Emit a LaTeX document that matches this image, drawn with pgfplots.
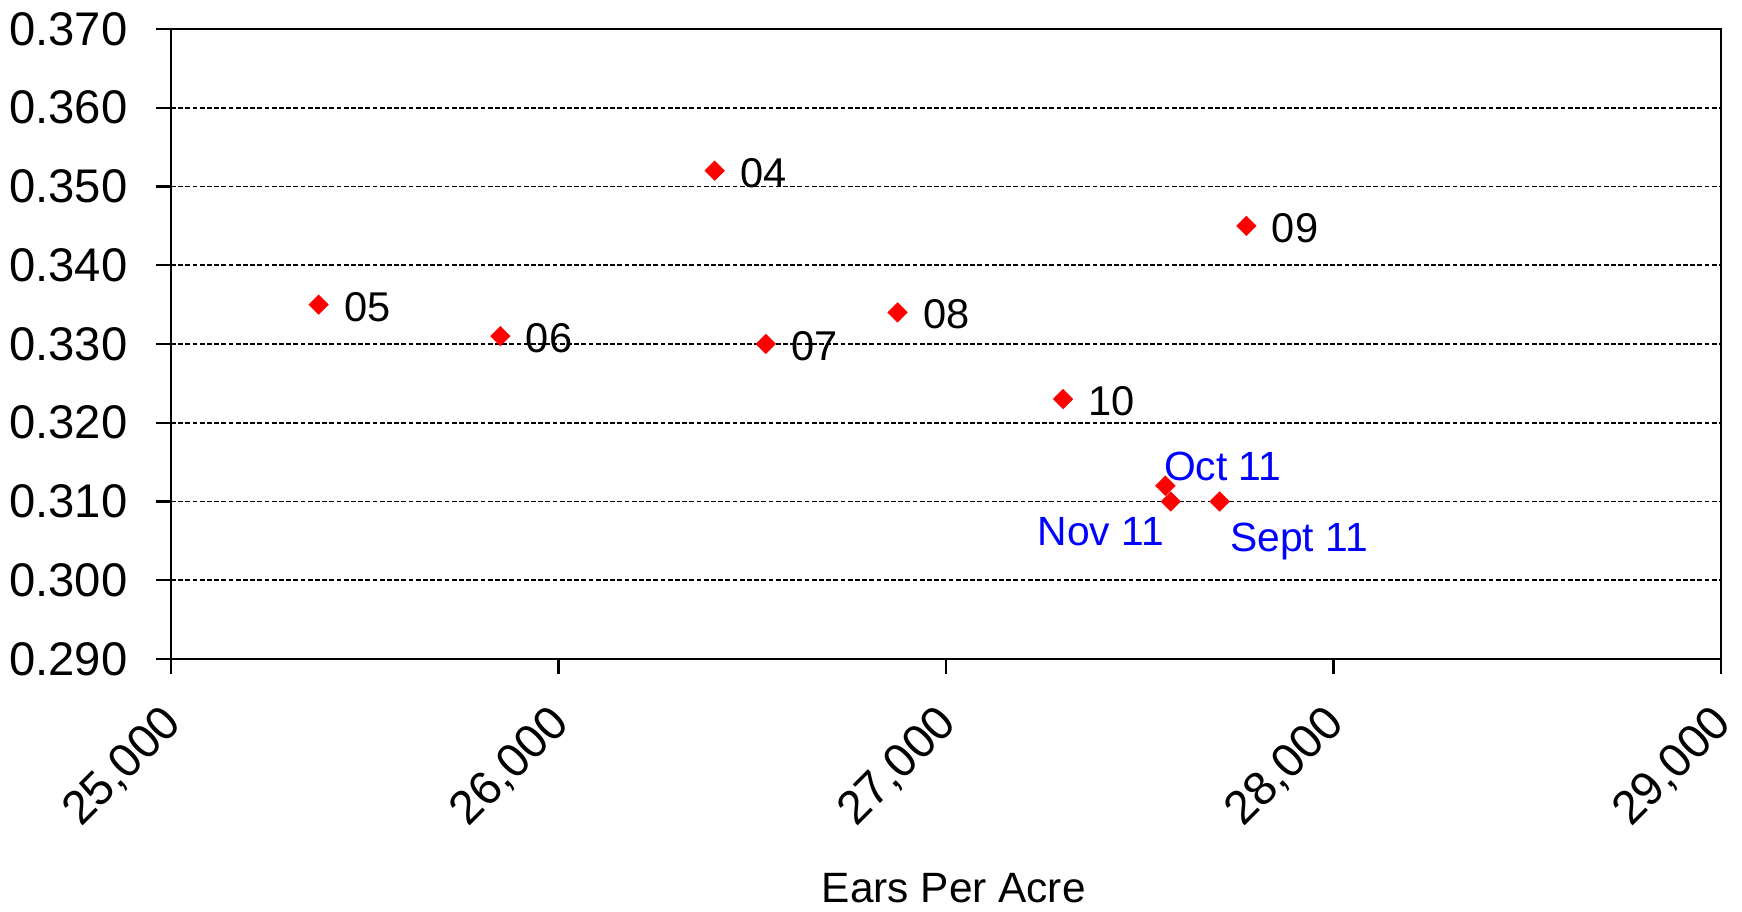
\documentclass[border=0pt]{standalone}
\usepackage{pgfplots}
\pgfplotsset{compat=1.18}
\usepackage{fontspec}
\setmainfont{Liberation Sans}
\definecolor{ptred}{RGB}{255,0,0}
\definecolor{lblblue}{RGB}{0,0,255}
\begin{document}
\fontsize{11.8}{14}\selectfont
\begin{tikzpicture}
\begin{axis}[
    scale only axis,
    width=387.5pt,
    height=157.5pt,
    xmin=25000, xmax=29000,
    ymin=0.29, ymax=0.37,
    xtick={25000,26000,27000,28000,29000},
    ytick={0.29,0.30,...,0.37},
    scaled ticks=false,
    /pgf/number format/assume math mode=true,
    x tick label style={/pgf/number format/1000 sep={,}, /pgf/number format/fixed},
    y tick label style={/pgf/number format/fixed, /pgf/number format/fixed zerofill, /pgf/number format/precision=3},
    xticklabel style={rotate=45, anchor=east, inner sep=0pt, xshift=-6.7pt, yshift=-7.9pt},
    yticklabel style={xshift=-3pt},
    tick align=outside,
    major tick length=3.8pt,
    tick style={black, line width=0.6pt},
    xtick pos=bottom, ytick pos=left,
    ymajorgrids,
    grid style={black, dash pattern=on 1.2pt off 0.6pt, line width=0.4pt},
    axis line style={black, line width=0.6pt},
    xlabel={Ears Per Acre},
    xlabel style={font=\fontsize{10.6}{12}\selectfont, anchor=base, at={(axis description cs:0.505,-0.387)}},
    mark size=1.6pt,
    clip=false,
]
\coordinate (sw) at (rel axis cs:0,0);
\coordinate (ne) at (rel axis cs:1,1);
% years, labels to the right
\addplot [only marks, mark=square*, mark options={rotate=45, fill=ptred, draw=ptred},
    nodes near coords, point meta=explicit symbolic,
    every node near coord/.append style={anchor=base west, inner sep=0pt, black,
      font=\fontsize{10.4}{12}\selectfont, xshift=6.2pt, yshift=-4.1pt}]
    table [meta=lab] {
x y lab
26403 0.352 04
25381 0.335 05
25850 0.331 06
26535 0.330 07
26875 0.334 08
27775 0.345 09
27302 0.323 10
};
% Oct 11
\addplot [only marks, mark=square*, mark options={rotate=45, fill=ptred, draw=ptred},
    nodes near coords, point meta=explicit symbolic,
    every node near coord/.append style={anchor=base west, inner sep=0pt, lblblue,
      font=\fontsize{10.2}{12}\selectfont, xshift=-0.5pt, yshift=1.4pt}]
    table [meta=lab] {
x y lab
27566 0.312 {Oct 11}
};
% Nov 11
\addplot [only marks, mark=square*, mark options={rotate=45, fill=ptred, draw=ptred},
    nodes near coords, point meta=explicit symbolic,
    every node near coord/.append style={anchor=base east, inner sep=0pt, lblblue,
      font=\fontsize{10.2}{12}\selectfont, xshift=-1.5pt, yshift=-10.9pt}]
    table [meta=lab] {
x y lab
27580 0.310 {Nov 11}
};
% Sept 11
\addplot [only marks, mark=square*, mark options={rotate=45, fill=ptred, draw=ptred},
    nodes near coords, point meta=explicit symbolic,
    every node near coord/.append style={anchor=base west, inner sep=0pt, lblblue,
      font=\fontsize{10.2}{12}\selectfont, xshift=2.5pt, yshift=-12.4pt}]
    table [meta=lab] {
x y lab
27706 0.310 {Sept 11}
};
\end{axis}
\pgfresetboundingbox
\path ([shift={(-42.75pt,-63.25pt)}]sw) rectangle ([shift={(5.25pt,7.25pt)}]ne);
\end{tikzpicture}
\end{document}
